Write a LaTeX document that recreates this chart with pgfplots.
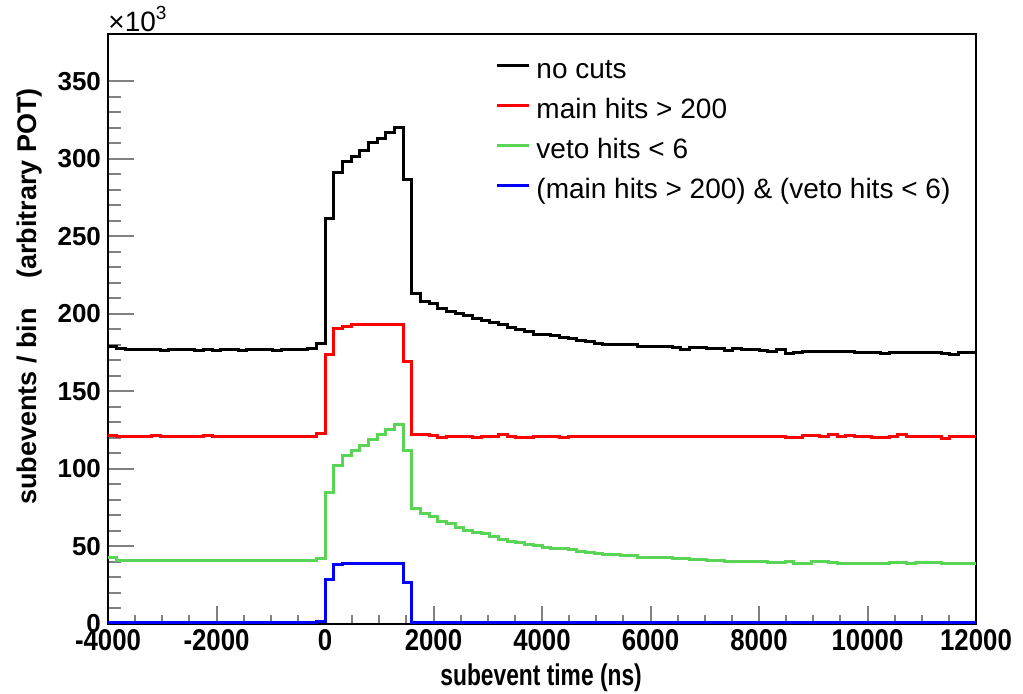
\documentclass[border=0pt]{standalone}
\usepackage{fontspec}
\setmainfont{Liberation Sans}
\newfontfamily\xtickfont[FakeStretch=0.86]{Liberation Sans}
\newfontfamily\xlabfont[FakeStretch=0.76]{Liberation Sans}
\usepackage{pgfplots}
\usepackage{pgfplotstable}
\pgfplotsset{compat=1.18}
\definecolor{rgreen}{RGB}{89,212,84}
\definecolor{rred}{RGB}{255,0,0}
\definecolor{rblue}{RGB}{0,0,255}

\pgfplotstableread{
x black red green blue
-4000 179.0 121.4 42.6 0.8
-3840 177.4 121.0 41.2 0.8
-3680 177.0 121.2 41.0 0.8
-3520 177.3 121.1 41.1 0.8
-3360 176.8 120.8 41.0 0.8
-3200 177.1 121.3 41.2 0.8
-3040 176.2 121.0 41.0 0.8
-2880 177.0 121.2 41.1 0.8
-2720 176.8 121.0 40.9 0.8
-2560 177.2 121.1 41.2 0.8
-2400 176.6 120.9 41.0 0.8
-2240 177.0 121.3 41.1 0.8
-2080 176.3 121.0 41.0 0.8
-1920 177.0 121.1 41.2 0.8
-1760 176.8 120.9 41.0 0.8
-1600 176.5 121.2 41.1 0.8
-1440 177.2 121.0 41.0 0.8
-1280 176.7 121.1 41.2 0.8
-1120 177.0 120.9 41.0 0.8
-960 176.6 121.2 41.1 0.8
-800 177.2 121.0 41.0 0.8
-640 176.8 121.1 41.1 0.8
-480 177.0 121.0 41.0 0.8
-320 177.4 121.2 41.2 0.9
-160 180.6 123.0 42.3 1.3
0 261.7 174.0 85.0 28.4
160 291.3 190.7 102.1 38.5
320 298.2 191.8 108.4 39.0
480 301.4 193.0 111.8 39.2
640 305.3 193.3 115.0 39.1
800 310.7 193.2 119.1 39.1
960 313.3 193.3 122.3 39.1
1120 316.9 193.2 125.6 39.1
1280 320.1 193.0 128.4 39.0
1440 286.4 169.6 112.2 26.6
1600 212.9 122.0 74.6 1.2
1760 207.7 122.0 71.0 0.9
1920 207.0 121.3 69.3 0.8
2080 203.5 120.3 66.4 0.8
2240 201.8 121.2 64.5 0.8
2400 200.0 121.0 62.3 0.8
2560 198.7 121.1 60.4 0.8
2720 196.8 120.5 58.8 0.8
2880 195.5 121.0 58.2 0.8
3040 194.2 121.0 56.3 0.8
3200 193.0 122.0 54.6 0.8
3360 191.3 121.0 53.2 0.8
3520 190.2 120.5 52.4 0.8
3680 188.6 120.5 51.0 0.8
3840 186.8 121.0 50.6 0.8
4000 186.4 121.0 49.4 0.8
4160 186.0 121.0 49.0 0.8
4320 184.6 120.5 48.6 0.8
4480 184.0 121.0 48.0 0.8
4640 182.8 121.0 46.6 0.8
4800 182.2 121.0 46.0 0.8
4960 180.8 120.8 45.3 0.8
5120 180.5 121.0 45.0 0.8
5280 180.4 121.0 44.6 0.8
5440 180.2 121.0 44.3 0.8
5600 180.0 121.0 43.9 0.8
5760 179.0 120.8 43.2 0.8
5920 178.9 121.0 43.0 0.8
6080 178.7 121.0 42.9 0.8
6240 178.9 121.0 42.7 0.8
6400 178.6 121.0 42.2 0.8
6560 176.8 121.0 42.1 0.8
6720 178.2 121.0 41.9 0.8
6880 178.0 121.0 41.8 0.8
7040 177.8 121.0 41.1 0.8
7200 177.4 121.0 41.0 0.8
7360 176.1 121.0 40.3 0.8
7520 177.8 121.0 40.2 0.8
7680 176.8 121.0 40.2 0.8
7840 176.7 121.0 40.2 0.8
8000 176.6 121.0 40.1 0.8
8160 175.6 121.0 39.5 0.8
8320 177.0 121.0 39.8 0.8
8480 174.7 120.5 40.1 0.8
8640 174.8 120.5 38.9 0.8
8800 175.6 121.5 39.2 0.8
8960 175.5 121.5 40.2 0.8
9120 176.0 121.0 40.6 0.8
9280 175.9 122.0 39.9 0.8
9440 176.0 121.0 39.3 0.8
9600 175.5 121.8 39.3 0.8
9760 175.4 120.8 39.3 0.8
9920 175.4 120.8 39.3 0.8
10080 174.8 120.5 39.3 0.8
10240 174.7 120.5 39.3 0.8
10400 175.0 121.0 39.8 0.8
10560 175.1 122.0 39.8 0.8
10720 174.9 121.0 39.3 0.8
10880 175.0 121.2 39.8 0.8
11040 175.4 121.2 39.8 0.8
11200 175.3 121.0 39.8 0.8
11360 174.2 119.8 39.2 0.8
11520 173.5 121.0 39.1 0.8
11680 175.2 121.0 39.1 0.8
11840 175.3 121.0 39.1 0.8
12000 175.3 121.0 39.1 0.8
}\hist

\begin{document}
\begin{tikzpicture}
\begin{axis}[
  scale only axis, width=434pt, height=295pt,
  xmin=-4000, xmax=12000, ymin=0, ymax=380.5,
  clip=false,
  scaled x ticks=false, scaled y ticks=false,
  axis line style={line width=1pt},
  tick pos=left, tick align=inside,
  xtick={-4000,-2000,0,2000,4000,6000,8000,10000,12000},
  xticklabels={-4000,-2000,0,2000,4000,6000,8000,10000,12000},
  ytick={0,50,100,150,200,250,300,350},
  yticklabels={0,50,100,150,200,250,300,350},
  minor x tick num=3, minor y tick num=4,
  xtick style={line width=1pt, /pgfplots/major tick length=9pt, /pgfplots/minor tick length=4.5pt},
  ytick style={line width=1pt, /pgfplots/major tick length=13pt, /pgfplots/minor tick length=6.5pt},
  yticklabel style={font=\fontsize{13}{13}\selectfont\bfseries},
  xticklabel style={font=\xtickfont\fontsize{15}{15}\selectfont\bfseries, yshift=1pt},
  xlabel={subevent time (ns)},
  ylabel={subevents / bin\hspace{1.1em}(arbitrary POT)},
  xlabel style={font=\xlabfont\fontsize{15}{15}\selectfont\bfseries, at={(axis description cs:0.499,-0.0915)}, anchor=center},
  ylabel style={font=\fontsize{13.5}{13.5}\selectfont\bfseries, at={(axis description cs:-0.09,0.555)}, anchor=center},
  legend style={at={(axis description cs:0.4459,0.9576)}, anchor=north west,
    draw=none, fill=none, inner sep=0pt, row sep=8pt, column sep=3pt,
    font=\fontsize{14}{14}\selectfont,
    nodes={inner sep=0pt, text height=9.5pt, text depth=2.5pt}},
  legend cell align=left,
  legend image code/.code={\draw[#1, line width=1.5pt] (0pt,3pt) -- (16pt,3pt);},
]
\addplot[const plot, black, line width=1.5pt] table[x=x, y=black]{\hist};
\addlegendentry{no cuts}
\addplot[const plot, rred, line width=1.5pt] table[x=x, y=red]{\hist};
\addlegendentry{main hits > 200}
\addplot[const plot, rgreen, line width=1.5pt] table[x=x, y=green]{\hist};
\addlegendentry{veto hits < 6}
\addplot[const plot, rblue, line width=1.5pt] table[x=x, y=blue]{\hist};
\addlegendentry{(main hits > 200) \& (veto hits < 6)}
\node[anchor=base west, inner sep=0pt, font=\fontsize{14}{14}\selectfont] at ([yshift=1.2pt]rel axis cs:0,1) {×10\raisebox{5.8pt}{\fontsize{9.5}{9.5}\selectfont 3}};
\end{axis}
\pgfresetboundingbox
\path ([xshift=-54pt,yshift=-35pt]current axis.south west) rectangle ([xshift=23.5pt,yshift=17pt]current axis.north east);
\end{tikzpicture}
\end{document}
